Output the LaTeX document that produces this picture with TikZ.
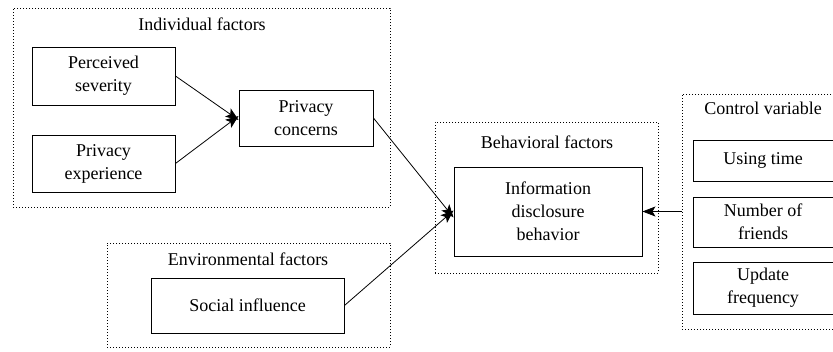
\documentclass[tikz,border=0pt]{standalone}
\usepackage{fontspec}
\setmainfont{Liberation Serif}
\usetikzlibrary{arrows,arrows.meta,shapes,positioning}

\begin{document}
\begin{tikzpicture}[x=1pt,y=-1pt,
    every node/.style={inner sep=0pt,font=\fontsize{18}{23}\selectfont},
    factor/.style={draw,line width=0.9pt,align=center},
    group/.style={draw,dotted,line width=1pt},
    conn/.style={-{Stealth[length=13pt,width=10pt,inset=3pt]},line width=0.8pt}]
                    \clip (0,0) rectangle (833,351);
                    % dotted groups
                    \node [group,minimum width=377,minimum height=199] (indiv) at (201.5,107.5) {};
                    \node [group,minimum width=283,minimum height=104] (env) at (248.5,295) {};
                    \node [group,minimum width=223,minimum height=151] (behav) at (546.5,197.5) {};
                    \node [group,minimum width=170,minimum height=235] (ctrl) at (767,211.5) {};
                    \draw (202,24) node {Individual factors};
                    \draw (248,259) node {Environmental factors};
                    \draw (547,142) node {Behavioral factors};
                    \draw (763,108) node {Control variable};
                    % boxes
                    \node [factor,minimum width=143,minimum height=58] (sev) at (103.5,76) {Perceived\\severity};
                    \node [factor,minimum width=143,minimum height=57] (exp) at (103.5,163.5) {Privacy\\experience};
                    \node [factor,minimum width=134,minimum height=56] (conc) at (306,118) {Privacy\\concerns};
                    \node [factor,minimum width=193,minimum height=55] (soc) at (247.5,305.5) {Social influence};
                    \node [factor,minimum width=188,minimum height=89] (info) at (548,211.5) {Information\\disclosure\\behavior};
                    \node [factor,minimum width=140,minimum height=41] (time) at (763,160.5) {Using time};
                    \node [factor,minimum width=140,minimum height=50] (friends) at (763,222) {Number of\\friends};
                    \node [factor,minimum width=140,minimum height=52] (update) at (763,288) {Update\\frequency};
                    % arrows
                    \draw [conn] (sev.east) -- ([yshift=-2]conc.west);
                    \draw [conn] (exp.east) -- ([yshift=2]conc.west);
                    \draw [conn] (conc.east) -- ([yshift=-6]info.west);
                    \draw [conn] (soc.east) -- ([yshift=1]info.west);
                    \draw [conn] (info.east -| ctrl.west) -- (info.east);
\end{tikzpicture}
\end{document}
